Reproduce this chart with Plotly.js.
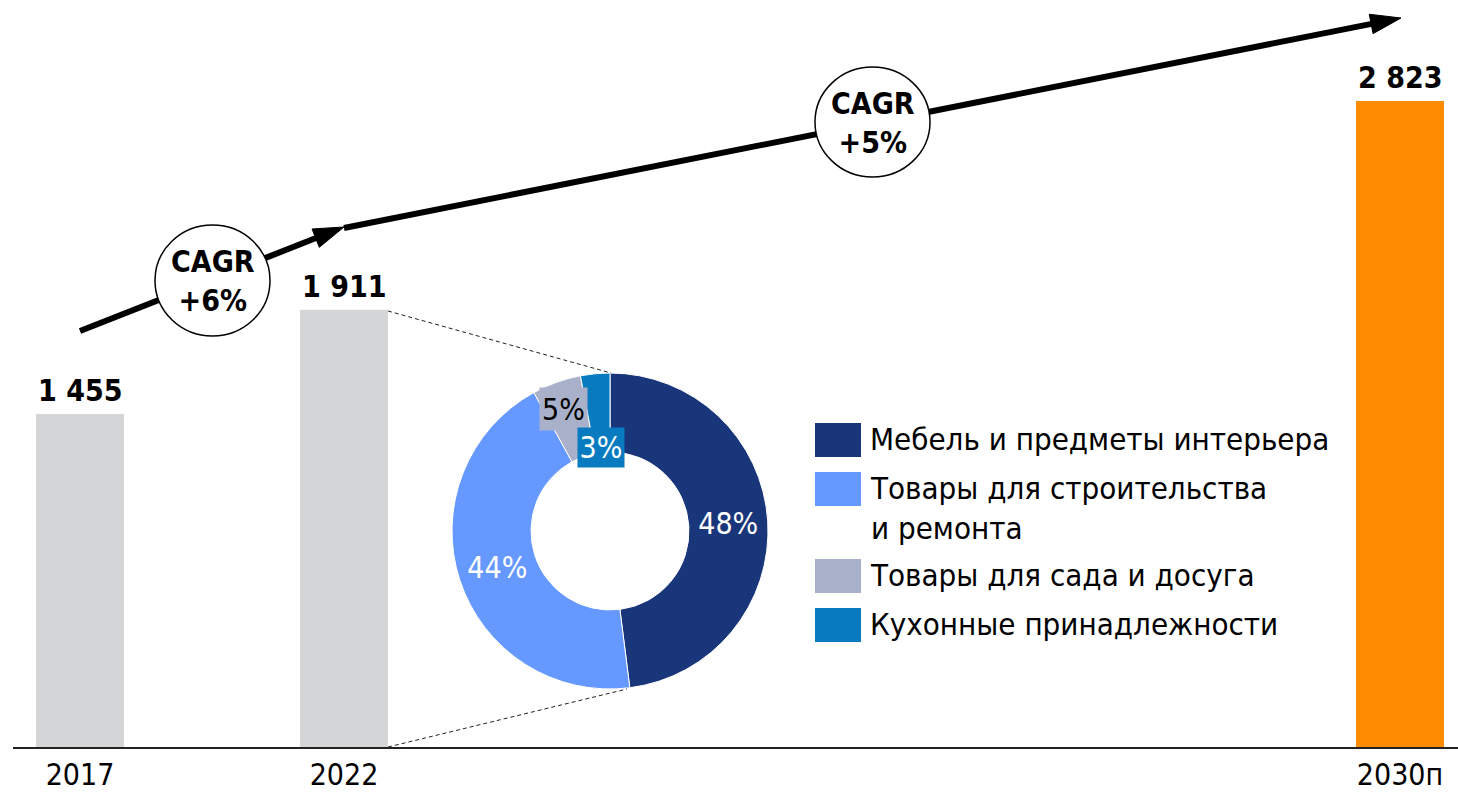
<!DOCTYPE html>
<html>
<head>
<meta charset="utf-8">
<script src="https://cdn.plot.ly/plotly-3.0.1.min.js"></script>
<style>html,body{margin:0;padding:0;background:#fff;}#chart{width:1458px;height:794px;}</style>
</head>
<body>
<div id="chart"></div>
<script>
// ---- data ----
const years = ['2017', '2022', '2030п'];
const marketValues = [1455, 1911, 2823];
const cagrLabels = ['CAGR<br>+6%', 'CAGR<br>+5%'];
const segmentLabels = ['Мебель и предметы интерьера', 'Товары для строительства<br>и ремонта', 'Товары для сада и досуга', 'Кухонные принадлежности'];
const segmentShares = [48, 44, 5, 3];

// ---- styles ----
const FONT = '"DejaVu Sans Condensed", "DejaVu Sans", sans-serif';
const barColors = ['#d5d6d8', '#d5d6d8', '#ff8c00'];
const segColors = ['#1a367b', '#6699ff', '#a8b0ca', '#087bc0'];
const segTextColors = ['#ffffff', '#ffffff', '#000000', '#ffffff'];

// plot area in page pixels
const L = 13, R = 1458, T = 0, B = 747;
const fx = p => (p - L) / (R - L);
const fy = p => 1 - (p - T) / (B - T);

const fmt = n => String(n).replace(/\B(?=(\d{3})+(?!\d))/g, ' ');

const categories = [years[0], years[1], ' ', '  ', '   ', years[2]];

const bars = {
  type: 'bar', x: years, y: marketValues, width: 0.333,
  marker: {color: barColors}, hoverinfo: 'skip'
};

const donut = {
  type: 'pie', values: segmentShares, labels: segmentLabels.map(s => s.replace('<br>', ' ')),
  sort: false, direction: 'clockwise', rotation: 0, hole: 0.5,
  domain: {x: [fx(452), fx(768)], y: [fy(689), fy(373)]},
  marker: {colors: segColors, line: {color: '#ffffff', width: 1}},
  texttemplate: '%{value}%', textposition: ['inside', 'inside', 'none', 'none'],
  insidetextorientation: 'horizontal',
  textfont: {family: FONT, size: 30, color: segTextColors},
  showlegend: false, hoverinfo: 'skip'
};

const arrowStyle = {
  type: 'scatter', mode: 'lines+markers', xaxis: 'x2', yaxis: 'y2',
  line: {color: '#000', width: 6},
  marker: {symbol: 'arrow', size: [0, 32], angleref: 'previous', color: '#000', opacity: 1,
    line: {color: '#000', width: 1}},
  hoverinfo: 'skip', showlegend: false, cliponaxis: false
};
const arrow1 = Object.assign({}, arrowStyle, {x: [80, 344], y: [331, 227]});
const arrow2 = Object.assign({}, arrowStyle, {x: [344, 1401], y: [228, 18]});

const shapes = [
  // connector lines
  {type: 'line', xref: 'x2', yref: 'y2', x0: 388, y0: 311, x1: 611, y1: 373, line: {color: '#222', width: 1, dash: '4px,3px'}},
  {type: 'line', xref: 'x2', yref: 'y2', x0: 388, y0: 747, x1: 627, y1: 689, line: {color: '#222', width: 1, dash: '4px,3px'}},
  // CAGR circles
  {type: 'circle', xref: 'x2', yref: 'y2', x0: 155, x1: 270, y0: 225, y1: 336, fillcolor: '#fff', line: {color: '#000', width: 1.5}, layer: 'above'},
  {type: 'circle', xref: 'x2', yref: 'y2', x0: 815, x1: 930, y0: 67, y1: 177, fillcolor: '#fff', line: {color: '#000', width: 1.5}, layer: 'above'}
];
const legendRectTops = [423, 472, 559, 608];
legendRectTops.forEach((t, i) => {
  shapes.push({type: 'rect', xref: 'x2', yref: 'y2', x0: 815, x1: 861, y0: t, y1: t + 34,
    fillcolor: segColors[i], line: {width: 0}, layer: 'above'});
});

const annotations = [];
// value labels above bars
years.forEach((yr, i) => {
  annotations.push({x: categories.indexOf(yr), y: marketValues[i], xref: 'x', yref: 'y', text: '<b>' + fmt(marketValues[i]) + '</b>',
    showarrow: false, yanchor: 'bottom', yshift: 4, font: {family: FONT, size: 30, color: '#000'}});
});
// CAGR texts
[[212.5, 281], [872.5, 123]].forEach((c, i) => {
  annotations.push({x: c[0], y: c[1], xref: 'x2', yref: 'y2', text: '<b>' + cagrLabels[i] + '</b>',
    showarrow: false, font: {family: FONT, size: 30, color: '#000'}});
});
// small-slice labels
annotations.push({x: 563.5, y: 409, xref: 'x2', yref: 'y2', text: segmentShares[2] + '%', showarrow: false,
  width: 47, height: 42, bgcolor: segColors[2], borderpad: 0, font: {family: FONT, size: 30, color: segTextColors[2]}});
annotations.push({x: 601, y: 447.5, xref: 'x2', yref: 'y2', text: segmentShares[3] + '%', showarrow: false,
  width: 46, height: 39, bgcolor: segColors[3], borderpad: 0, font: {family: FONT, size: 30, color: segTextColors[3]}});
// legend texts
legendRectTops.forEach((t, i) => {
  annotations.push({x: 868, y: t + 17 - 21, xref: 'x2', yref: 'y2', text: segmentLabels[i], showarrow: false,
    xanchor: 'left', yanchor: 'top', align: 'left', font: {family: FONT, size: 31, color: '#000'}});
});

const layout = {
  width: 1458, height: 794,
  margin: {l: L, r: 1458 - R, t: T, b: 794 - B, pad: 0},
  paper_bgcolor: '#fff', plot_bgcolor: '#fff',
  showlegend: false,
  font: {family: FONT, size: 30, color: '#000'},
  xaxis: {type: 'category', categoryorder: 'array', categoryarray: categories,
    tickmode: 'array', tickvals: years, ticktext: years,
    range: [-0.2538, 5.2197], showline: true, linecolor: '#222', linewidth: 1.5,
    ticks: '', showgrid: false, zeroline: false, fixedrange: true,
    tickfont: {family: FONT, size: 30, color: '#000'}},
  yaxis: {range: [0, 3264], visible: false, showgrid: false, zeroline: false, fixedrange: true},
  xaxis2: {overlaying: 'x', anchor: 'y2', range: [L, R], visible: false, fixedrange: true},
  yaxis2: {overlaying: 'y', anchor: 'x2', range: [B, T], visible: false, fixedrange: true},
  shapes: shapes,
  annotations: annotations
};

Plotly.newPlot('chart', [bars, donut, arrow1, arrow2], layout, {displayModeBar: false, staticPlot: true});
</script>
</body>
</html>
